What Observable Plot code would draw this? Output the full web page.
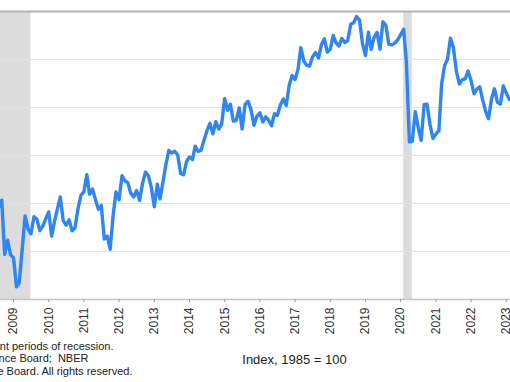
<!DOCTYPE html>
<html>
<head>
<meta charset="utf-8">
<script src="https://cdn.jsdelivr.net/npm/d3@7"></script>
<script src="https://cdn.jsdelivr.net/npm/@observablehq/plot@0.6"></script>
<style>
  html, body { margin: 0; padding: 0; background: #fff; overflow: hidden; }
  svg { font-family: "Liberation Sans", Arial, sans-serif; }
</style>
</head>
<body>
<div id="chart"></div>
<script>
// Consumer Confidence Index (1985 = 100), monthly, Aug 2008 – Feb 2023
const startMonth = "2008-08-01";
const values = [
  58.5, 61.4, 38.8, 44.7, 38.6,
  37.4, 25.3, 26.9, 40.8, 54.8, 49.3, 47.4, 54.5, 53.4, 48.7, 50.6, 53.6,
  56.5, 46.4, 52.3, 57.7, 62.7, 52.9, 51.0, 53.2, 48.6, 49.9, 57.8, 63.4,
  64.8, 72.0, 63.8, 66.0, 61.7, 57.6, 59.2, 45.2, 46.4, 40.9, 55.2, 64.8,
  61.5, 71.6, 69.5, 68.7, 64.4, 62.7, 65.4, 61.3, 68.4, 73.1, 71.5, 66.7,
  58.6, 68.0, 61.9, 69.0, 76.2, 82.1, 81.0, 81.8, 80.2, 72.4, 72.0, 77.5,
  79.4, 78.3, 83.9, 81.7, 82.2, 86.4, 90.3, 93.4, 89.0, 94.1, 91.0, 93.1,
  103.8, 98.8, 101.4, 94.3, 94.6, 99.8, 91.0, 101.3, 102.6, 99.1, 92.6, 96.3,
  97.8, 94.0, 96.1, 94.7, 92.4, 97.4, 96.7, 101.1, 103.5, 100.8, 109.4, 113.3,
  111.6, 116.1, 124.9, 119.4, 117.6, 117.3, 121.1, 122.9, 120.6, 126.2, 128.6, 123.1,
  124.3, 130.0, 127.0, 125.6, 128.8, 127.1, 127.9, 134.7, 135.3, 137.9, 136.4, 126.6,
  121.7, 131.4, 124.2, 129.2, 131.3, 124.3, 135.7, 134.2, 126.3, 126.1, 126.8, 128.2,
  130.4, 132.6, 118.8, 85.7, 85.9, 98.3, 91.7, 86.3, 101.3, 101.4, 92.9, 87.1,
  88.9, 90.4, 109.7, 117.5, 120.0, 128.9, 125.1, 115.2, 109.8, 111.6, 111.9, 115.2,
  111.1, 105.7, 107.6, 108.6, 103.2, 98.4, 95.3, 103.6, 107.8, 102.2, 101.4, 109.0,
  106.0, 103.4
];
const recessionStarts = ["2007-12-01", "2020-02-01"];
const recessionEnds   = ["2009-07-01", "2020-05-01"];
const tickYears = ["2009","2010","2011","2012","2013","2014","2015","2016","2017","2018","2019","2020","2021","2022","2023"];
const gridValues = [40, 60, 80, 100, 120];
const yDomain = [20, 140];
const xDomain = ["2008-08-19", "2023-02-14"];
const noteLines = [
  "Shaded areas represent periods of recession.",
  "Sources: The Conference Board;  NBER",
  "\u00a9 2023 The Conference Board. All rights reserved."
];
const unitLabel = "Index, 1985 = 100";

const start = new Date(startMonth);
const data = values.map((v, i) => ({ date: d3.utcMonth.offset(start, i), value: v }));
const recessions = recessionStarts.map((s, i) => ({ start: new Date(s), end: new Date(recessionEnds[i]) }));
const ticks = tickYears.map(y => new Date(y + "-01-01"));

const chart = Plot.plot({
  width: 510,
  height: 382,
  marginTop: 11,
  marginBottom: 83,
  marginLeft: 0,
  marginRight: 0,
  style: { fontFamily: "'Liberation Sans', Arial, sans-serif", overflow: "hidden" },
  x: { type: "utc", domain: xDomain.map(d => new Date(d)) },
  y: { domain: yDomain, axis: null },
  marks: [
    Plot.rect(recessions, { x1: "start", x2: "end", fill: "#dcdcdc", clip: true }),
    Plot.ruleY(gridValues, { stroke: "#e2e2e2", strokeWidth: 1 }),
    Plot.ruleY([yDomain[1]], { stroke: "#b4b4b4", strokeWidth: 2 }),
    Plot.ruleY([yDomain[0]], { stroke: "#c4c4c4", strokeWidth: 1.5 }),
    Plot.axisX({
      ticks: ticks,
      tickFormat: d3.utcFormat("%Y"),
      tickRotate: -90,
      tickSize: 3,
      tickPadding: 5,
      fontSize: 12,
      stroke: "#999",
      color: "#333"
    }),
    Plot.line(data, { x: "date", y: "value", stroke: "#2f86f2", strokeWidth: 3.4, strokeLinejoin: "round", clip: true }),
    Plot.text([noteLines[0]], { frameAnchor: "bottom-left", dx: 113, dy: 50, textAnchor: "end", fontSize: 11, fill: "#222" }),
    Plot.text([noteLines[1]], { frameAnchor: "bottom-left", dx: 88, dy: 62, textAnchor: "end", fontSize: 11, fill: "#222" }),
    Plot.text([noteLines[2]], { frameAnchor: "bottom-left", dx: 132, dy: 75, textAnchor: "end", fontSize: 11, fill: "#222" }),
    Plot.text([unitLabel], { frameAnchor: "bottom-left", dx: 294, dy: 64, textAnchor: "middle", fontSize: 13, fill: "#222" })
  ]
});
document.getElementById("chart").appendChild(chart);
</script>
</body>
</html>
